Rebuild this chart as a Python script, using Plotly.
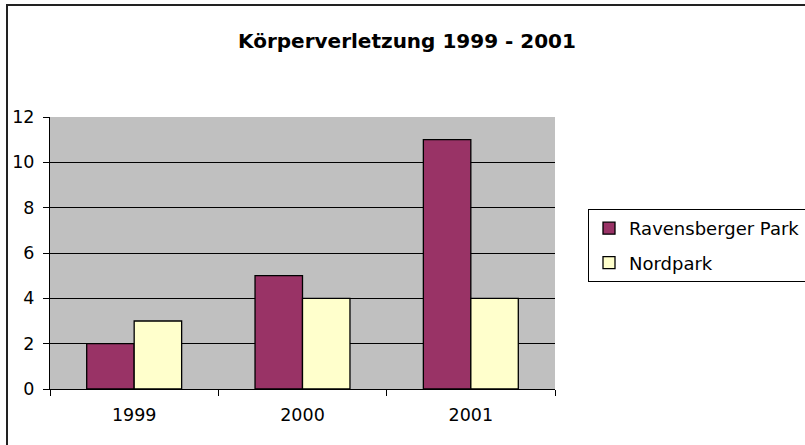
import plotly.graph_objects as go

years = ["1999", "2000", "2001"]
ravensberger = [2, 5, 11]
nordpark = [3, 4, 4]
series_names = ["Ravensberger Park", "Nordpark"]
y_ticks = [0, 2, 4, 6, 8, 10, 12]
title = "Körperverletzung 1999 - 2001"

W, H = 805, 445
L, R, T, B = 50, 555, 117, 389

def px_x(p):
    return (p - L) / (R - L)

def px_y(p):
    return (B - p) / (B - T)

FONT = "DejaVu Sans, Liberation Sans, Arial, sans-serif"

fig = go.Figure()
fig.add_trace(go.Bar(x=years, y=ravensberger, name=series_names[0], legendgroup="a",
                     marker=dict(color="#993366", line=dict(color="black", width=1.3))))
fig.add_trace(go.Bar(x=years, y=nordpark, name=series_names[1], legendgroup="b",
                     marker=dict(color="#FFFFCC", line=dict(color="black", width=1.3))))

fig.update_layout(
    width=W, height=H,
    margin=dict(l=L, r=W - R, t=T, b=H - B, pad=0, autoexpand=False),
    paper_bgcolor="white",
    plot_bgcolor="#C0C0C0",
    barmode="group",
    bargap=0.436,
    bargroupgap=0,
    font=dict(family=FONT, size=17.5, color="black"),
    title=dict(text="<b>" + title + "</b>", x=407 / W, xanchor="center",
               y=1 - 41 / H, yanchor="middle", xref="container", yref="container",
               font=dict(size=20, family=FONT, color="black")),
    legend=dict(x=px_x(588), y=px_y(209), xanchor="left", yanchor="top",
                bordercolor="black", borderwidth=1, bgcolor="white",
                font=dict(size=18, family=FONT), tracegroupgap=8,
                itemwidth=30),
    showlegend=True,
    hovermode=False,
    shapes=[dict(type="rect", xref="paper", yref="paper",
                 x0=px_x(7), x1=px_x(815), y0=px_y(455), y1=px_y(5),
                 line=dict(color="#222222", width=2), fillcolor="rgba(0,0,0,0)",
                 layer="below")],
)

fig.update_yaxes(range=[0, 12], tickvals=y_ticks, showgrid=True, gridcolor="black",
                 gridwidth=1, showline=True, linecolor="black", linewidth=1,
                 ticks="outside", ticklen=6, tickcolor="black",
                 tickfont=dict(size=17.5, family=FONT), zeroline=False,
                 ticklabelstandoff=5)
fig.update_xaxes(showline=True, linecolor="black", linewidth=1,
                 ticks="outside", ticklen=6, tickcolor="black", tickson="boundaries",
                 tickfont=dict(size=17.5, family=FONT), showgrid=False,
                 ticklabelstandoff=10)

fig.write_html("out.html", config={"displayModeBar": False},
               post_script="document.body.style.margin='0';")
